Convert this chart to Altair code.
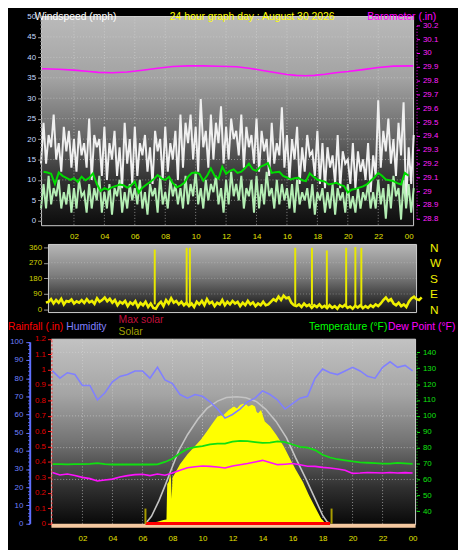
import altair as alt
import pandas as pd

# ---------------- data ----------------
hour_ticks = [2, 4, 6, 8, 10, 12, 14, 16, 18, 20, 22, 24]
hour_labels = ["02", "04", "06", "08", "10", "12", "14", "16", "18", "20", "22", "00"]

# 10-minute samples, from 23:50 of the day before to 00:20
ten_min_hours = [(i - 1) / 6 for i in range(148)]
quarter_hours = [i * 0.25 for i in range(97)]
half_hours = [i * 0.5 for i in range(49)]

gust_mph = [14,
    24, 14, 21, 18, 26, 15, 19, 12, 23, 17, 22, 13, 20,
    12, 22, 16, 19, 13, 25, 10, 21, 18, 20, 11, 23,
    10, 19, 15, 22, 11, 18, 8, 24, 14, 20, 9, 23,
    11, 19, 16, 21, 12, 18, 9, 22, 17, 20, 10, 23, 12, 19, 15, 22, 10, 26,
    13, 24, 19, 26, 15, 23, 12, 29.8, 18, 22, 13, 26, 15, 24, 19, 28, 14, 23,
    15, 25, 20, 22, 16, 26, 13, 23, 18, 21, 14, 25,
    12, 22, 17, 20, 11, 24, 14, 19, 16, 27.8, 13, 21,
    10, 20, 15, 23, 9, 18, 12, 21, 16, 17, 11, 22, 9, 19,
    8, 18, 13, 16, 9, 21, 8, 17, 14, 15, 9, 19, 8,
    17, 12, 15, 10, 19, 7, 16,
    11, 29.5, 13, 22, 17, 25, 14, 20, 11, 24, 16, 29, 4, 18,
    9, 21]

wind_mph = [3,
    9, 3, 11, 4, 8, 6, 10, 3, 7, 4, 9, 2, 8,
    3, 10, 6, 7, 2, 9, 3, 8, 5, 11, 2, 7,
    3, 9, 1.5, 8, 6, 10, 2, 7, 3, 9, 5, 8,
    4, 10, 3, 7, 1.5, 9, 6, 8, 2, 11, 4, 7, 3, 10, 6, 9, 4, 8,
    3, 11, 4, 9, 6, 12, 4, 8, 3, 10, 5, 9, 7, 11, 4, 8, 2, 10,
    4, 12, 6, 9, 5, 11, 3, 8, 6, 10, 2, 11,
    3, 9, 4, 12, 6, 8, 3, 10, 4, 9, 5, 8,
    3, 9, 2, 10, 4, 7, 5, 8, 3, 9, 1.5, 7, 5, 8,
    2, 7, 3, 9, 1.5, 8, 5, 7, 2, 9, 3, 6, 2,
    8, 3, 7, 5, 9, 3, 7,
    3, 10, 4, 8, 0.5, 9, 3, 11, 6, 8, 0.3, 10, 3, 9,
    2, 8]

avg_mph = [12.0, 11.8, 11.5, 9.0, 11.8, 11.0, 10.5, 10.0, 10.4, 9.5, 10.8, 9.9,
    10.5, 11.6, 9.0, 7.3, 8.0, 7.6, 8.2, 8.5, 8.9, 8.7, 8.1, 8.6,
    9.6, 6.9, 8.1, 8.8, 9.5, 10.2, 11.2, 10.4, 10.0, 10.8, 9.2, 8.2,
    8.6, 9.3, 10.8, 11.7, 11.8, 11.5, 9.8, 11.0, 12.8, 11.0, 10.3, 13.2,
    11.5, 12.2, 12.6, 11.7, 12.0, 12.9, 14.0, 12.6, 12.2, 13.2, 13.6, 14.1,
    11.7, 11.9, 12.0, 11.0, 10.6, 10.1, 10.4, 10.5, 9.9, 9.7, 11.6, 10.8,
    10.1, 9.8, 9.6, 8.9, 9.1, 9.3, 8.8, 8.5, 6.9, 7.6, 7.8, 8.1,
    8.4, 8.9, 9.8, 10.6, 11.7, 11.0, 10.1, 9.9, 9.7, 9.2, 8.9, 11.7, 11.0]

baro_hours = [-0.1, 1, 2, 3, 3.6, 4.5, 5.5, 6.5, 7.5, 8.5, 9.5, 10.5, 11.5, 12.7,
    13.5, 14.5, 15.3, 16.0, 16.6, 17.2, 17.8, 18.5, 19.2, 20.0, 21.0, 22.0, 23.0, 24.3]
baro_in = [29.886, 29.882, 29.876, 29.866, 29.860, 29.857, 29.862, 29.875, 29.890,
    29.902, 29.907, 29.907, 29.904, 29.900, 29.890, 29.872, 29.857, 29.845, 29.838,
    29.836, 29.838, 29.846, 29.857, 29.866, 29.880, 29.895, 29.905, 29.907]

dir_deg = [40,
    45, 60, 35, 55, 40, 62, 30, 50, 45, 58, 35, 48, 40,
    55, 38, 60, 42, 50, 33, 65, 45, 55, 70, 48, 62,
    40, 55, 25, 45, 35, 50, 20, 42, 30, 48, 15, 38,
    25, 45, 15, 35, 10, 5, 30, 45, 20, 55, 35, 65, 40, 50, 30, 45, 25, 40,
    20, 35, 15, 45, 30, 50, 25, 60, 35, 45, 20, 40, 30, 55, 25, 45, 30, 50,
    35, 45, 20, 40, 25, 50, 30, 42, 20, 35, 25, 45,
    25, 30, 45, 60, 50, 75, 55, 80, 65, 70, 40, 25,
    20, 30, 15, 35, 20, 28, 10, 25, 15, 30, 12, 22, 8, 25,
    10, 20, 5, 25, 15, 28, 10, 18, 5, 22, 12, 25, 8,
    20, 10, 25, 15, 30, 20, 35,
    55, 70, 50, 60, 35, 25, 40, 20, 30, 15, 45, 65, 75, 60,
    55, 70]
spike_hours = [6.93, 9.01, 9.22, 16.09, 17.18, 18.15, 19.41, 20.01, 20.40]
spike_base = [30, 25, 30, 20, 25, 15, 20, 15, 20]
spike_top = [346, 356, 356, 356, 356, 341, 356, 360, 356]

humidity_pct = [84, 80, 83, 82, 76, 76, 68, 72, 78, 81, 82, 84, 84, 80, 86, 79, 77,
    71, 69, 71, 70, 67, 63, 58, 60, 63, 67, 69, 73, 71, 68, 63, 66, 69, 70, 80,
    85, 83, 82, 84, 86, 84, 81, 80, 86, 89, 86, 87, 84]
temp_f = [69.6, 69.6, 69.5, 69.6, 69.6, 69.8, 70.3, 69.6, 69.4, 69.4, 69.4, 69.4,
    69.4, 69.4, 69.5, 71.0, 73.0, 76.5, 79.2, 80.3, 81.0, 82.0, 82.5, 82.6, 83.8,
    84.2, 84.1, 83.5, 83.0, 83.2, 84.0, 83.5, 82.0, 80.5, 80.0, 78.5, 75.5, 73.8,
    72.7, 72.0, 71.3, 70.8, 70.5, 70.3, 70.0, 70.0, 70.4, 70.1, 69.8]
dew_f = [64.4, 62.8, 63.4, 62.5, 61.3, 60.5, 59.0, 59.6, 60.2, 61.5, 62.4, 63.0,
    63.2, 62.4, 63.4, 62.6, 64.0, 65.8, 67.3, 68.0, 68.4, 68.2, 67.8, 67.2, 68.5,
    69.2, 70.0, 71.0, 72.0, 70.6, 69.3, 69.6, 70.0, 69.2, 68.3, 68.2, 67.6, 67.2,
    66.6, 65.8, 63.8, 64.0, 64.4, 64.2, 64.0, 64.4, 64.0, 64.3, 64.0]

solar_hours = [0, 6.2, 6.5, 7.0, 7.4, 7.6, 7.65, 7.75, 7.85, 7.9, 7.95, 8.0, 8.2,
    8.5, 9.0, 9.4, 9.9, 10.3, 10.6, 11.0, 11.4, 11.75, 12.1, 12.3, 12.5, 12.7,
    12.9, 13.05, 13.3, 13.5, 13.6, 13.7, 13.9, 14.15, 14.5, 14.9, 15.4, 15.8,
    16.2, 16.7, 17.1, 17.55, 17.9, 18.2, 18.4, 24]
solar_wm2 = [0, 0, 5, 12, 22, 26, 241, 255, 300, 271, 151, 280, 311, 361, 421,
    461, 511, 561, 601, 651, 660, 690, 711, 700, 720, 728, 725, 712, 722, 711,
    680, 671, 690, 621, 591, 541, 471, 401, 331, 251, 172, 92, 32, 2, 0, 0]
maxsolar_hours = [6.2, 6.6, 7.1, 7.5, 7.9, 8.4, 9.0, 9.7, 10.3, 11.0, 11.6, 12.3,
    12.9, 13.6, 14.2, 14.9, 15.6, 16.2, 16.9, 17.55, 18.0, 18.3, 18.5]
maxsolar_wm2 = [0, 45, 140, 230, 325, 440, 540, 635, 700, 744, 766, 771, 765, 741,
    696, 621, 521, 401, 271, 142, 52, 12, 0]
marker_hours = [6.2, 18.6]
marker_lo = [0, 0]
marker_hi = [92, 92]
rain_hours = [6.2, 18.5]
rain_in = [0.0, 0.0]

wind_ticks = [0, 5, 10, 15, 20, 25, 30, 35, 40, 45, 50]
wind_minor = list(range(0, 51))
baro_ticks = [28.8, 28.9, 29.0, 29.1, 29.2, 29.3, 29.4, 29.5, 29.6, 29.7, 29.8, 29.9, 30.0, 30.1, 30.2]
dir_ticks = [0, 90, 180, 270, 360]
dir_letters = ["N", "E", "S", "W", "N"]
hum_ticks = [0, 10, 20, 30, 40, 50, 60, 70, 80, 90, 100]
hum_minor = list(range(0, 101, 2))
rain_ticks = [0, 0.1, 0.2, 0.3, 0.4, 0.5, 0.6, 0.7, 0.8, 0.9, 1.0, 1.1, 1.2]
temp_ticks = [40, 50, 60, 70, 80, 90, 100, 110, 120, 130, 140]
temp_grid = [60, 80, 100, 120, 140]
grid_hours = [2, 4, 6, 8, 10, 12, 14, 16, 18, 20, 22]
wind_grid = [5, 10, 15, 20, 25, 30, 35, 40, 45]
dir_grid = [90, 180, 270]

FONT = "Liberation Sans"

# ---------------- scales ----------------
def sc(domain, rng):
    return alt.Scale(domain=domain, range=rng, nice=False, zero=False)

XT = sc([0, 24], [2, 372])
XM = sc([0, 24], [7, 380])
XB = sc([0, 24], [11, 376])
YW = sc([0, 50], [210, 3])
YP = sc([28.8, 30.2], [208, 12])
YD = sc([0, 360], [300, 236.7])
YH = sc([0, 100], [516.7, 332.7])
YR = sc([0, 1.2], [516.7, 329.5])
YT = sc([40, 140], [504.3, 343.3])
YS = sc([0, 1000], [517, 350])


def expr_map(values, labels):
    parts = " : ".join(f"datum.value == {v} ? '{l}'" for v, l in zip(values, labels))
    return parts + " : ''"


def axis(**kw):
    base = dict(grid=False, title=None, labelFont=FONT, labelFontSize=8,
                labelFlush=False, labelOverlap=False, zindex=1)
    base.update(kw)
    return alt.Axis(**base)


def one():
    return pd.DataFrame({"k": [0]})


def panel(x0, x1, y0, y1, stops):
    g = alt.Gradient(gradient="linear", x1=0, y1=0, x2=0, y2=1,
                     stops=[alt.GradientStop(color=c, offset=o) for o, c in stops])
    return alt.Chart(one()).mark_rect(fill=g, stroke="#cfcfcf", strokeWidth=1).encode(
        x=alt.value(x0), x2=alt.value(x1), y=alt.value(y0), y2=alt.value(y1))


def text(t, x, y, color, size=10.5):
    return alt.Chart(one()).mark_text(text=t, align="left", baseline="alphabetic",
                                      font=FONT, fontSize=size, color=color).encode(
        x=alt.value(x), y=alt.value(y))


layers = []

# panels
layers.append(panel(0, 377, 3, 215, [(0, "#bababa"), (0.3, "#a2a2a2"), (0.55, "#6c6c6c"),
                                      (0.8, "#2e2e2e"), (1, "#0c0c0c")]))
layers.append(panel(7, 380, 234, 303, [(0, "#b6b6b6"), (0.45, "#7e7e7e"),
                                       (0.8, "#363636"), (1, "#101010")]))
layers.append(panel(10, 379, 330, 518, [(0, "#c2c2c2"), (0.3, "#a4a4a4"), (0.55, "#747474"),
                                        (0.8, "#303030"), (1, "#080808")]))

# grid lines
gh = pd.DataFrame({"h": grid_hours})
layers.append(alt.Chart(gh).mark_rule(color="#d8d8d8", strokeDash=[1, 2], opacity=0.6).encode(
    x=alt.X("h:Q", scale=XT, axis=None), y=alt.value(3), y2=alt.value(215)))
layers.append(alt.Chart(gh).mark_rule(color="#d8d8d8", strokeDash=[1, 2], opacity=0.6).encode(
    x=alt.X("h:Q", scale=XB, axis=None), y=alt.value(330), y2=alt.value(518)))
layers.append(alt.Chart(pd.DataFrame({"v": wind_grid})).mark_rule(
    color="#d8d8d8", strokeDash=[1, 2], opacity=0.5).encode(
    y=alt.Y("v:Q", scale=YW, axis=axis(orient="left", values=wind_minor, labels=False,
                                       tickSize=2, tickColor="#8a8a8a", domain=False)),
    x=alt.value(0), x2=alt.value(377)))
layers.append(alt.Chart(pd.DataFrame({"v": dir_grid})).mark_rule(
    color="#d8d8d8", strokeDash=[1, 2], opacity=0.4).encode(
    y=alt.Y("v:Q", scale=YD, axis=None), x=alt.value(7), x2=alt.value(380)))
layers.append(alt.Chart(pd.DataFrame({"v": temp_grid})).mark_rule(
    color="#d8d8d8", strokeDash=[1, 2], opacity=0.6).encode(
    y=alt.Y("v:Q", scale=YT, axis=None), x=alt.value(10), x2=alt.value(379)))

# ---- top panel: wind and barometer
top = pd.DataFrame({"h": ten_min_hours, "gust": gust_mph, "wind": wind_mph, "dir": dir_deg})
layers.append(alt.Chart(top).mark_line(color="#f0f0f0", strokeWidth=2).encode(
    x=alt.X("h:Q", scale=XT, axis=None),
    y=alt.Y("gust:Q", scale=YW, axis=axis(orient="left", values=wind_ticks,
                                          labelColor="#c4d8ff", tickSize=4,
                                          tickColor="#9a9a9a", domain=False, labelPadding=2))))
layers.append(alt.Chart(top).mark_line(color="#b4eeb4", strokeWidth=2).encode(
    x=alt.X("h:Q", scale=XT, axis=None), y=alt.Y("wind:Q", scale=YW, axis=None)))
avg = pd.DataFrame({"h": quarter_hours, "avg": avg_mph})
layers.append(alt.Chart(avg).mark_line(color="#00dd00", strokeWidth=2).encode(
    x=alt.X("h:Q", scale=XT, axis=axis(orient="bottom", offset=-305, values=hour_ticks,
                                       labelExpr=expr_map(hour_ticks, hour_labels),
                                       labelColor="#e4e400", ticks=False, tickSize=0,
                                       domain=False, labelPadding=7)),
    y=alt.Y("avg:Q", scale=YW, axis=None)))
baro = pd.DataFrame({"h": baro_hours, "p": baro_in})
layers.append(alt.Chart(baro).mark_line(color="#ff10ff", strokeWidth=1.6).encode(
    x=alt.X("h:Q", scale=XT, axis=None),
    y=alt.Y("p:Q", scale=YP, axis=axis(orient="right", values=baro_ticks, format="~g",
                                       labelColor="#ff20ff", tickColor="#ff00ff", tickSize=3,
                                       domainColor="#ff00ff", domainDash=[1, 2],
                                       labelPadding=3))))

# ---- middle panel: wind direction
layers.append(alt.Chart(top).mark_line(color="#f0f000", strokeWidth=2.6).encode(
    x=alt.X("h:Q", scale=XM, axis=None),
    y=alt.Y("dir:Q", scale=YD, axis=axis(orient="left", offset=-6, values=dir_ticks,
                                         labelColor="#d0d000", tickSize=4,
                                         tickColor="#9a9a9a", domain=False, labelPadding=2))))
spk = pd.DataFrame({"h": spike_hours, "lo": spike_base, "hi": spike_top})
layers.append(alt.Chart(spk).mark_rule(color="#e8e800", strokeWidth=2).encode(
    x=alt.X("h:Q", scale=XM, axis=None),
    y=alt.Y("lo:Q", scale=YD, axis=axis(orient="right", values=dir_ticks,
                                        labelExpr=expr_map(dir_ticks, dir_letters),
                                        labelColor="#f0f000", labelFontSize=12,
                                        ticks=False, tickSize=0, domain=False,
                                        labelPadding=13, labelBaseline="middle")),
    y2="hi:Q"))

# ---- bottom panel
sol = pd.DataFrame({"h": solar_hours, "s": solar_wm2})
layers.append(alt.Chart(sol).mark_area(color="#ffff00", opacity=1).encode(
    x=alt.X("h:Q", scale=XB, axis=axis(orient="bottom", values=hour_ticks,
                                       labelExpr=expr_map(hour_ticks, hour_labels),
                                       labelColor="#e4e400", ticks=False, tickSize=0,
                                       domain=False, labelPadding=8)),
    y=alt.Y("s:Q", scale=YS, axis=None)))
ms = pd.DataFrame({"h": maxsolar_hours, "s": maxsolar_wm2})
layers.append(alt.Chart(ms).mark_line(color="#c4c4c4", strokeWidth=1.6).encode(
    x=alt.X("h:Q", scale=XB, axis=None), y=alt.Y("s:Q", scale=YS, axis=None)))
bot = pd.DataFrame({"h": half_hours, "hum": humidity_pct, "t": temp_f, "d": dew_f})
layers.append(alt.Chart(bot).mark_line(color="#8080ff", strokeWidth=1.6).encode(
    x=alt.X("h:Q", scale=XB, axis=None),
    y=alt.Y("hum:Q", scale=YH, axis=axis(orient="left", offset=12, values=hum_ticks,
                                         labelColor="#7080ff", tickColor="#6070ff",
                                         tickSize=4, domainColor="#6070ff",
                                         domainWidth=2, labelPadding=3))))
layers.append(alt.Chart(bot).mark_line(color="#10e010", strokeWidth=1.8).encode(
    x=alt.X("h:Q", scale=XB, axis=None),
    y=alt.Y("t:Q", scale=YT, axis=axis(orient="right", values=temp_ticks,
                                       labelColor="#10e010", tickColor="#10e010",
                                       tickSize=3, domainColor="#10e010",
                                       domainDash=[1, 2], labelPadding=3))))
layers.append(alt.Chart(bot).mark_line(color="#ff10ff", strokeWidth=1.6).encode(
    x=alt.X("h:Q", scale=XB, axis=None), y=alt.Y("d:Q", scale=YT, axis=None)))
# minor humidity ticks, carried by an invisible 0 % reference rule
layers.append(alt.Chart(pd.DataFrame({"v": [0]})).mark_rule(opacity=0).encode(
    y=alt.Y("v:Q", scale=YH, axis=axis(orient="left", offset=12, values=hum_minor,
                                       labels=False, tickSize=2, tickColor="#6070ff",
                                       domain=False)),
    x=alt.value(10), x2=alt.value(11)))
layers.append(alt.Chart(one()).mark_rect(fill="#f4c8a0").encode(
    x=alt.value(10), x2=alt.value(379), y=alt.value(517), y2=alt.value(521)))
rain = pd.DataFrame({"h": rain_hours, "r": rain_in})
layers.append(alt.Chart(rain).mark_line(color="#ff0000", strokeWidth=3).encode(
    x=alt.X("h:Q", scale=XB, axis=None),
    y=alt.Y("r:Q", scale=YR, axis=axis(orient="left", offset=-10, values=rain_ticks,
                                       format="~g", labelColor="#e00000",
                                       tickColor="#ff2020", tickSize=4,
                                       domainColor="#ff3030", domainDash=[2, 2],
                                       labelPadding=2))))
mk = pd.DataFrame({"h": marker_hours, "lo": marker_lo, "hi": marker_hi})
layers.append(alt.Chart(mk).mark_rule(color="#a89c00", strokeWidth=2).encode(
    x=alt.X("h:Q", scale=XB, axis=None), y=alt.Y("lo:Q", scale=YS, axis=None), y2="hi:Q"))

# ---- titles and legend texts
layers.append(text("Windspeed (mph)", -7, 6.5, "#ffffff"))
layers.append(text("24 hour graph day : August 30 2026", 130, 6.5, "#ffff00"))
layers.append(text("Barometer (.in)", 330, 6.5, "#ff00ff"))
layers.append(text("Rainfall (.in)", -34, 321, "#ff0000"))
layers.append(text("Humidity", 25, 321, "#8080ff"))
layers.append(text("Max solar", 78, 314, "#c0103c"))
layers.append(text("Solar", 78, 326, "#a0a000"))
layers.append(text("Temperature (°F)", 271, 321, "#00ff00"))
layers.append(text("Dew Point (°F)", 351, 321, "#ff00ff"))

chart = alt.layer(*layers).resolve_scale(
    x="independent", y="independent"
).resolve_axis(
    x="independent", y="independent"
).properties(
    width=380, height=520, background="#000000",
    padding={"left": 34, "top": 2, "right": 42, "bottom": 20},
    autosize=alt.AutoSizeParams(type="none"),
).configure_view(stroke=None)

chart.save("out.html", embed_options={"renderer": "svg", "actions": False})
